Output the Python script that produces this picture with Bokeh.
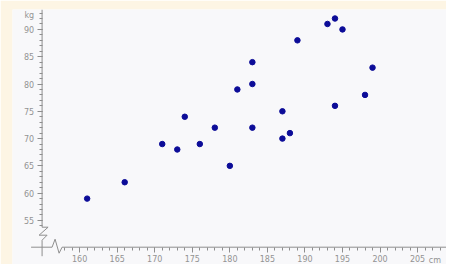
from bokeh.plotting import figure
from bokeh.models import Range1d, LinearAxis, FixedTicker, Label
from bokeh.embed import file_html
from bokeh.resources import INLINE

# data: height (cm) and weight (kg)
height = [161, 166, 171, 173, 174, 176, 178, 180, 181, 183, 183, 183,
          187, 187, 188, 189, 193, 194, 195, 194, 198, 199]
weight = [59, 62, 69, 68, 74, 69, 72, 65, 79, 84, 80, 72,
          75, 70, 71, 88, 91, 92, 90, 76, 78, 83]

x_ticks = [160, 165, 170, 175, 180, 185, 190, 195, 200, 205]
y_ticks = [55, 60, 65, 70, 75, 80, 85, 90]
x_minor = list(range(158, 209))
y_minor = list(range(54, 94))

X0, Y0 = 155, 50.1        # where the axes cross
XMIN, XMAX = 151.06, 208.85
YMIN, YMAX = 46.93, 93.65
PX = 1 / 7.509            # one pixel in cm
PY = 1 / 5.458            # one pixel in kg

GRAY_BG = "#f8f8fa"
CREAM = "#fdf5e4"
AXIS = "#8e8e8e"
TXT = "#939393"

p = figure(width=446, height=264, output_backend="svg", toolbar_location=None,
           x_range=Range1d(XMIN, XMAX), y_range=Range1d(YMIN, YMAX),
           x_axis_location=None, y_axis_location=None,
           min_border_left=12, min_border_top=9, min_border_right=0, min_border_bottom=0)
p.background_fill_color = GRAY_BG
p.border_fill_color = CREAM
p.outline_line_color = None
p.grid.visible = False

xa = LinearAxis(fixed_location=Y0,
                ticker=FixedTicker(ticks=x_ticks, minor_ticks=x_minor))
ya = LinearAxis(fixed_location=X0,
                ticker=FixedTicker(ticks=y_ticks, minor_ticks=y_minor))
for ax in (xa, ya):
    ax.axis_line_color = None
    ax.major_tick_line_color = AXIS
    ax.minor_tick_line_color = AXIS
    ax.major_tick_in = 0
    ax.minor_tick_in = 0
    ax.major_tick_out = 5
    ax.minor_tick_out = 3
    ax.major_label_text_color = TXT
    ax.major_label_text_font = "DejaVu Sans"
    ax.major_label_text_font_size = "8px"
xa.major_label_standoff = 3
ya.major_label_standoff = 3
p.add_layout(xa, "below")
p.add_layout(ya, "left")

# axis lines with break marks
yx = [X0, X0, X0 + 6 * PX, X0 - 3 * PX, X0 + 5 * PX, X0, X0]
yy = [YMAX, Y0 + 20 * PY, Y0 + 20 * PY, Y0 + 12 * PY, Y0 + 12 * PY, Y0 + 7 * PY, Y0 - 9 * PY]
p.line(yx, yy, line_color=AXIS, line_width=1)
xx = [X0 - 11 * PX, X0 + 10 * PX, X0 + 13 * PX, X0 + 17 * PX, X0 + 20 * PX, XMAX]
xy = [Y0, Y0, Y0 + 8 * PY, Y0 - 6 * PY, Y0, Y0]
p.line(xx, xy, line_color=AXIS, line_width=1)

p.scatter(height, weight, size=5.5, color="#0c0c98")

p.add_layout(Label(x=X0, y=92.6, text="kg", x_offset=-8, text_align="right",
                   text_baseline="middle", text_font_size="8px",
                   text_font="DejaVu Sans", text_color=TXT))
p.add_layout(Label(x=207.3, y=Y0, text="cm", y_offset=-13, text_align="center",
                   text_baseline="middle", text_font_size="8px",
                   text_font="DejaVu Sans", text_color=TXT))

open("out.html", "w").write(file_html(p, INLINE))
